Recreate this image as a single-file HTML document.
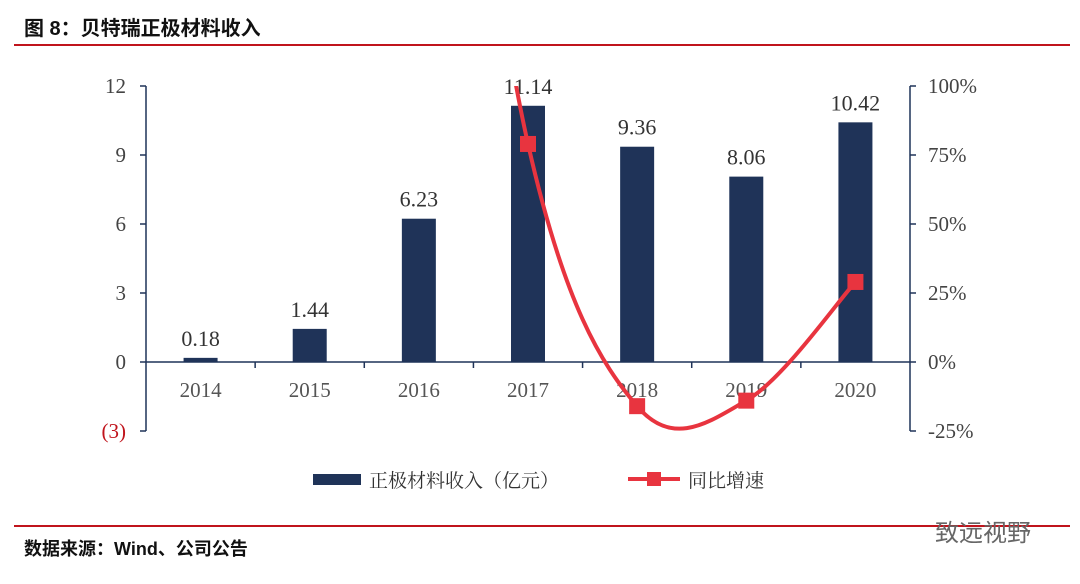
<!DOCTYPE html>
<html><head><meta charset="utf-8">
<style>
body{margin:0;background:#fff;width:1080px;height:579px;overflow:hidden;font-family:"Liberation Serif","Noto Serif CJK SC",serif;}
.t{font-family:"Liberation Sans","Noto Sans CJK SC",sans-serif;font-weight:bold;}
</style></head><body>
<svg width="1080" height="579">
<text class="t" x="24" y="35" font-size="20" fill="#111">图 8：贝特瑞正极材料收入</text>
<rect x="14" y="44" width="1056" height="2" fill="#c0141c"/>
<rect x="14" y="525" width="1056" height="2" fill="#c0141c"/>
<text class="t" x="24" y="555" font-size="18" fill="#111">数据来源：Wind、公司公告</text>
<text x="935" y="541" font-size="24" fill="#666" font-family="'Noto Sans CJK SC',sans-serif">致远视野</text>
<g id="plot"></g>
<g id="legend">
<rect x="313" y="474" width="48" height="11" fill="#1f3358"/>
<text x="369" y="487" font-size="19" fill="#333" font-family="'Noto Serif CJK SC',serif">正极材料收入（亿元）</text>
<line x1="628" y1="479" x2="680" y2="479" stroke="#e8343f" stroke-width="4"/>
<rect x="647" y="472" width="14" height="14" fill="#e8343f"/>
<text x="688" y="487" font-size="19" fill="#333" font-family="'Noto Serif CJK SC',serif">同比增速</text>
</g>
</svg>
<script>
const years=["2014","2015","2016","2017","2018","2019","2020"];
const revenue=[0.18,1.44,6.23,11.14,9.36,8.06,10.42];
const growthYears=["2016","2017","2018","2019","2020"];
const growth=[333,79,-16,-14,29];
const markerYears=["2017","2018","2019","2020"];
const leftTicks=[12,9,6,3,0,-3];
const rightTicks=[100,75,50,25,0,-25];

const NS="http://www.w3.org/2000/svg";
const g=document.getElementById('plot');
const xL=146,xR=910,yTop=86,yBot=431;
const yL=v=>362-(v)*23;
const yRt=v=>362-v*69/25;
const step=(xR-xL)/years.length;
const xC=y=>xL+step*(years.indexOf(y)+0.5);
function mk(tag,at){const e=document.createElementNS(NS,tag);for(const k in at)e.setAttribute(k,at[k]);g.appendChild(e);return e;}
function txt(x,y,s,at){const e=mk('text',Object.assign({x:x,y:y},at));e.textContent=s;return e;}
const axisC="#1f3358";
let e=mk('line',{x1:xL,y1:yTop,x2:xL,y2:yBot,stroke:axisC,'stroke-width':1.5});

leftTicks.forEach(v=>{
 let t=mk('line',{x1:xL-6,y1:yL(v),x2:xL,y2:yL(v),stroke:axisC,'stroke-width':1.5});
 
 let l=txt(xL-20,yL(v)+7,v<0?"("+(-v)+")":String(v),{'font-size':21,'text-anchor':'end',fill:v<0?'#c0141c':'#444'});
 
});
e=mk('line',{x1:xR,y1:yTop,x2:xR,y2:yBot,stroke:axisC,'stroke-width':1.5});

rightTicks.forEach(v=>{
 let t=mk('line',{x1:xR,y1:yRt(v),x2:xR+6,y2:yRt(v),stroke:axisC,'stroke-width':1.5});
 
 let l=txt(xR+18,yRt(v)+7,v+"%",{'font-size':21,fill:'#444'});
 
});
e=mk('line',{x1:xL,y1:yL(0),x2:xR,y2:yL(0),stroke:axisC,'stroke-width':1.5});

for(let i=1;i<years.length;i++){
 let t=mk('line',{x1:xL+step*i,y1:yL(0),x2:xL+step*i,y2:yL(0)+6,stroke:axisC,'stroke-width':1.5});
 
}
years.forEach((y,i)=>{
 const v=revenue[i],x=xC(y);
 let b=mk('rect',{x:x-17,y:yL(v),width:34,height:yL(0)-yL(v),fill:'#1f3358'});
 
 let l=txt(x,yL(v)-12,v.toFixed(2),{'font-size':22,'text-anchor':'middle',fill:'#333'});
 
 let c=txt(x,397,y,{'font-size':21,'text-anchor':'middle',fill:'#555'});
 
});
const P=growthYears.map((y,i)=>[xC(y),yRt(growth[i])]);
let d="M"+P[0][0]+","+P[0][1];
for(let i=0;i<P.length-1;i++){
 const p0=P[i-1]||P[i],p1=P[i],p2=P[i+1],p3=P[i+2]||P[i+1];
 d+=" C"+(p1[0]+(p2[0]-p0[0])/6)+","+(p1[1]+(p2[1]-p0[1])/6)+" "+(p2[0]-(p3[0]-p1[0])/6)+","+(p2[1]-(p3[1]-p1[1])/6)+" "+p2[0]+","+p2[1];
}
const cp=mk('clipPath',{id:'clp'});
const cr=document.createElementNS(NS,'rect');cr.setAttribute('x',xL);cr.setAttribute('y',yTop);cr.setAttribute('width',xR-xL);cr.setAttribute('height',400);cp.appendChild(cr);
e=mk('path',{d:d,fill:'none',stroke:'#e8343f','stroke-width':4,'clip-path':'url(#clp)'});

markerYears.forEach(y=>{
 const v=growth[growthYears.indexOf(y)];
 let m=mk('rect',{x:xC(y)-8,y:yRt(v)-8,width:16,height:16,fill:'#e8343f'});
 
});
</script>
</body></html>
